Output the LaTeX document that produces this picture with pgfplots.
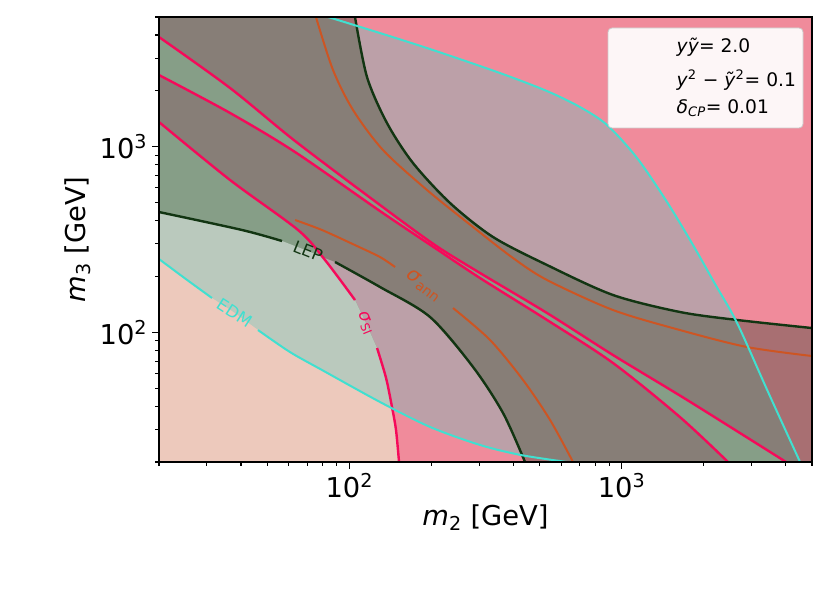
\documentclass[border=0pt]{standalone}
\usepackage{pgfplots}
\pgfplotsset{compat=1.18}
\usepackage{fontspec}
\setmainfont{DejaVu Sans}
\definecolor{cPink}{HTML}{F08B9B}
\definecolor{cMauve}{HTML}{BCA0A8}
\definecolor{cGB}{HTML}{877E77}
\definecolor{cDM}{HTML}{A86F72}
\definecolor{cGreen}{HTML}{869E87}
\definecolor{cLGG}{HTML}{BAC9BD}
\definecolor{cPeach}{HTML}{EDC9BC}
\definecolor{cCyan}{HTML}{40E0D0}
\definecolor{cLEP}{HTML}{123512}
\definecolor{cOr}{HTML}{CD5523}
\definecolor{cCr}{HTML}{F50A5A}
\begin{document}
\begin{tikzpicture}
\path[use as bounding box] (-119.25pt,-98.25pt) rectangle (503.25pt,346.5pt);
\begin{axis}[
  at={(0pt,0pt)}, anchor=south west,
  scale only axis, width=489.75pt, height=333.75pt,
  xmode=log, ymode=log,
  xmin=20, xmax=5000, ymin=20, ymax=5000,
  xtick={100,1000}, xticklabels={10\textsuperscript{2},10\textsuperscript{3}},
  ytick={100,1000}, yticklabels={10\textsuperscript{2},10\textsuperscript{3}},
  minor xtick={20,30,40,50,60,70,80,90,200,300,400,500,600,700,800,900,2000,3000,4000,5000},
  minor ytick={20,30,40,50,60,70,80,90,200,300,400,500,600,700,800,900,2000,3000,4000,5000},
  tick align=outside, tick pos=left,
  major tick length=5.25pt, minor tick length=3pt,
  tick style={black, line width=0.8pt},
  axis line style={line width=0.8pt},
  axis on top,
  axis background/.style={fill=cPink},
  xlabel={\textit{m}\textsubscript{2} [GeV]},
  ylabel={\textit{m}\textsubscript{3} [GeV]},
  label style={font=\fontsize{20.5}{24}\selectfont},
  xlabel style={yshift=2pt},
  tick label style={font=\fontsize{20.5}{24}\selectfont},
]
% EDM band (between cyan curves)
\addplot[fill=cMauve, draw=none] coordinates {
(20,248.2) (25.1,193.6) (31.3,153) (38.0,127) (46.2,102.8) (60.5,78.3) (79.4,62.6) (129.6,42.1) (143.4,39.6) (197.8,30.9) (302,24.7) (427,21.8) (630,20)
(4520,20) (3448,47.7) (2654,112.2) (2203,182) (1829,295) (1467,504) (1139,869) (884,1309) (703.4,1635) (532,1995) (357.6,2494) (202.9,3318) (129.6,4096) (83.5,5000)
(20,5000)} --cycle;
% LEP band
\addplot[fill=cGB, draw=none] coordinates {
(20,444.6) (40.4,355.7) (56.6,310.3) (70.5,274) (78.0,257.6) (88.6,239.2) (129.6,175.4) (197.8,120.9) (284.6,65.0) (366.8,36.7) (441.7,20)
(5000,20) (5000,105.4) (2608,117.5) (1637.6,128.6) (929.6,158.8) (532,230.4) (337,326.2) (234.3,497.3) (171.3,816.6) (137.5,1341) (116.1,2374) (106.7,4468) (104.9,5000)
(20,5000)} --cycle;
% LEP outside EDM band
\addplot[fill=cDM, draw=none] coordinates {(2608,117.5) (3448,47.7) (4520,20) (5000,20) (5000,105.4)} --cycle;
\addplot[fill=cDM, draw=none] coordinates {(427,21.8) (441.7,20) (630,20)} --cycle;
\addplot[fill=cDM, draw=none] coordinates {(83.5,5000) (104.9,5000) (106.7,4468)} --cycle;
% sigma_SI wedge between A and B
\addplot[fill=cGreen, draw=none] coordinates {
(20,3900) (36.5,2070) (63.2,1073) (129.6,485) (206.4,295) (302,208.6) (532,127) (929.6,75.4) (1738,43.2) (4015,20)
(2458,20) (1638,34.9) (929.6,68.3) (532,116.5) (302,196) (206.4,284.4) (129.6,450) (63.2,936) (36.5,1519) (20,2433)} --cycle;
% below C
\addplot[fill=cGreen, draw=none] coordinates {
(20,1358) (36.5,661) (64.8,355.7) (81.4,245.2) (104.9,149.2) (115.1,112.2) (126.4,82.3) (136.4,56.7) (143.4,39.6) (148.4,29.7) (152.2,20) (20,20)} --cycle;
\addplot[fill=cLGG, draw=none] coordinates {
(20,444.6) (40.4,355.7) (56.6,310.3) (70.5,274) (78.0,257.6) (81.4,245.2) (104.9,149.2) (115.1,112.2) (126.4,82.3) (136.4,56.7) (143.4,39.6) (148.4,29.7) (152.2,20) (20,20)} --cycle;
\addplot[fill=cPeach, draw=none] coordinates {
(20,248.2) (25.1,193.6) (31.3,153) (38.0,127) (46.2,102.8) (60.5,78.3) (79.4,62.6) (129.6,42.1) (143.4,39.6) (148.4,29.7) (152.2,20) (20,20)} --cycle;
% sigma_SI lines
\addplot[cCr, line width=1.8pt, smooth] coordinates {(20,3900) (36.5,2070) (63.2,1073) (129.6,485) (206.4,295) (302,208.6) (532,127) (929.6,75.4) (1738,43.2) (4015,20)};
\addplot[cCr, line width=1.8pt, smooth] coordinates {(20,2433) (36.5,1519) (63.2,936) (129.6,450) (206.4,284.4) (302,196) (532,116.5) (929.6,68.3) (1638,34.9) (2458,20)};
\addplot[cCr, line width=1.8pt, smooth] coordinates {(20,1358) (36.5,661) (64.8,355.7) (81.4,245.2) (104.9,149.2)};
\addplot[cCr, line width=1.8pt, smooth] coordinates {(126.4,82.3) (136.4,56.7) (143.4,39.6) (148.4,29.7) (152.2,20)};
% sigma_ann lines
\addplot[cOr, line width=1.5pt, smooth] coordinates {(75.4,5000) (87.1,2590) (103.2,1576) (132.9,959.7) (192.9,584.2) (284.6,369.2) (399,251.4) (532,191.3) (929.6,131.8) (1637.6,102.8) (2886,83.3) (5000,74.5)};
\addplot[cOr, line width=1.5pt, smooth] coordinates {(63.2,402.7) (79.4,355.7) (104.9,295) (129.6,254.4) (147.2,224.7)};
\addplot[cOr, line width=1.5pt, smooth] coordinates {(240.3,135.1) (328.6,90.9) (434.4,55.3) (545.8,33.7) (662.8,20)};
% LEP lines
\addplot[cLEP, line width=1.8pt, smooth] coordinates {(20,444.6) (40.4,355.7) (56.6,310.3)};
\addplot[cLEP, line width=1.8pt, smooth] coordinates {(88.6,239.2) (129.6,175.4) (197.8,120.9) (284.6,65.0) (366.8,36.7) (441.7,20)};
\addplot[cLEP, line width=1.8pt, smooth] coordinates {(104.9,5000) (116.1,2374) (137.5,1341) (171.3,816.6) (234.3,497.3) (337,326.2) (532,230.4) (929.6,158.8) (1637.6,128.6) (2654,116.5) (5000,105.4)};
% EDM lines
\addplot[cCyan, line width=1.5pt, smooth] coordinates {(20,248.2) (25.1,193.6) (31.3,153)};
\addplot[cCyan, line width=1.5pt, smooth] coordinates {(46.2,102.8) (60.5,78.3) (79.4,62.6) (129.6,42.1) (197.8,30.9) (302,24.7) (427,21.8) (630,20)};
\addplot[cCyan, line width=1.5pt, smooth] coordinates {(83.5,5000) (129.6,4096) (202.9,3318) (357.6,2494) (532,1995) (703.4,1635) (884,1309) (1139,869) (1467,504) (1829,295) (2203,182) (2654,112.2) (3448,47.7) (4520,20)};
% contour labels
\node[rotate=-22, text=cLEP, font=\fontsize{12.5}{14}\selectfont] at (axis cs:70.5,274) {LEP};
\node[rotate=-33, text=cCyan, font=\fontsize{12.5}{14}\selectfont] at (axis cs:38.0,127) {EDM};
\node[rotate=-38, text=cOr, font=\fontsize{15}{17}\selectfont] at (axis cs:188,177.5) {\textit{σ}\textsubscript{ann}};
\node[rotate=-68, text=cCr, font=\fontsize{13}{15}\selectfont] at (axis cs:115.1,112.2) {\textit{σ}\textsubscript{SI}};
% legend box
\draw[draw=black!20, fill=white, fill opacity=0.93, rounded corners=3pt, line width=0.6pt] (rel axis cs:0.6876,0.7506) rectangle (rel axis cs:0.9862,0.9753);
\node[anchor=west, font=\fontsize{14}{16}\selectfont] at (rel axis cs:0.7856,0.9326) {\textit{yỹ}= 2.0};
\node[anchor=west, font=\fontsize{14}{16}\selectfont] at (rel axis cs:0.7856,0.8584) {\textit{y}\textsuperscript{2} − \textit{ỹ}\textsuperscript{2}= 0.1};
\node[anchor=west, font=\fontsize{14}{16}\selectfont] at (rel axis cs:0.7856,0.7955) {\textit{δ}\textsubscript{\textit{CP}}= 0.01};
\end{axis}
\end{tikzpicture}
\end{document}
